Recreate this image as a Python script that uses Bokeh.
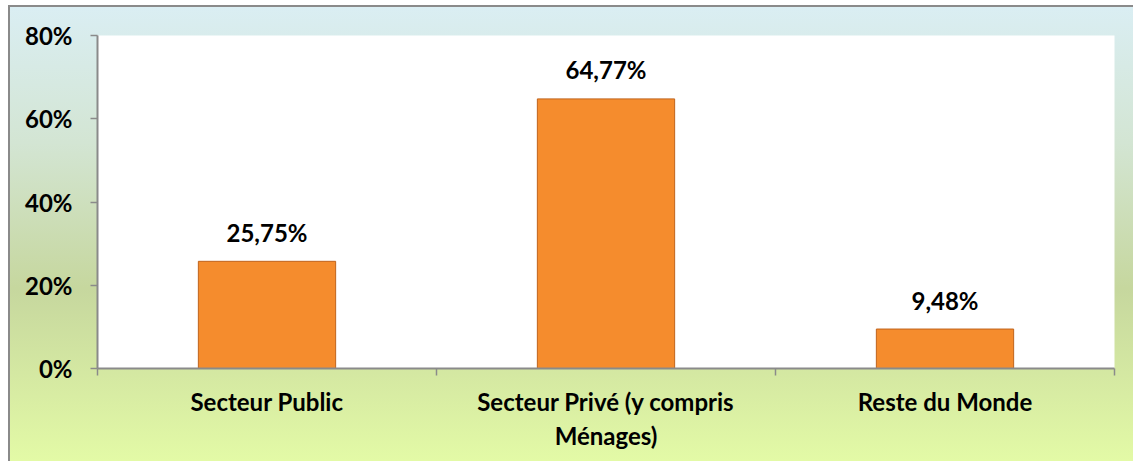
from bokeh.plotting import figure
from bokeh.models import FixedTicker, PrintfTickFormatter, ColumnDataSource, Range1d
from bokeh.embed import file_html
from bokeh.resources import INLINE
from bokeh.core.properties import value

categories = ["Secteur Public", "Secteur Privé (y compris\nMénages)", "Reste du Monde"]
values = [25.75, 64.77, 9.48]
labels = ["25,75%", "64,77%", "9,48%"]
y_ticks = [0, 20, 40, 60, 80]

x = [i + 0.5 for i in range(len(categories))]
bounds = list(range(len(categories) + 1))
src = ColumnDataSource(dict(x=x, top=values, label=labels))

FONT = "Lato"
FS = "24px"

p = figure(width=1125, height=456, output_backend="svg", toolbar_location=None,
           x_range=Range1d(0, len(categories)), y_range=Range1d(0, 80),
           min_border_left=87, min_border_right=21, min_border_top=28, min_border_bottom=95)

p.styles = {
    "background": "linear-gradient(to bottom, #DAEEF3 0%, #D3E5D3 30%, #C6D79E 62%, #E3FAA6 100%)",
    "border-top": "2px solid #8a8a8a",
    "border-left": "2px solid #8a8a8a",
    "margin-left": "8px",
    "margin-top": "5px",
}
p.border_fill_alpha = 0
p.background_fill_color = "white"
p.outline_line_color = None
p.grid.visible = False

p.vbar(x="x", top="top", width=0.405, source=src,
       fill_color="#F58C2D", line_color="#C0631B", line_width=1)

p.text(x="x", y="top", text="label", source=src, text_align="center",
       text_baseline="middle", y_offset=-29, text_font=value(FONT),
       text_font_style="bold", text_font_size=FS, text_color="black")

xa = p.xaxis[0]
xa.ticker = FixedTicker(ticks=x, minor_ticks=bounds)
xa.major_label_overrides = {x[i]: categories[i] for i in range(len(categories))}
xa.major_tick_line_color = None
xa.minor_tick_out = 7
xa.minor_tick_in = 0
xa.minor_tick_line_color = "#8a8a8a"
xa.minor_tick_line_width = 1.5
xa.axis_line_color = "#8a8a8a"
xa.axis_line_width = 2
xa.major_label_text_font = FONT
xa.major_label_text_font_style = "bold"
xa.major_label_text_font_size = FS
xa.major_label_text_color = "black"
xa.major_label_text_line_height = 1.2
xa.major_label_standoff = 11

ya = p.yaxis[0]
ya.ticker = FixedTicker(ticks=y_ticks)
ya.formatter = PrintfTickFormatter(format="%d%%")
ya.major_tick_out = 7
ya.major_tick_in = 0
ya.minor_tick_line_color = None
ya.major_tick_line_color = "#8a8a8a"
ya.major_tick_line_width = 1.5
ya.axis_line_color = "#8a8a8a"
ya.axis_line_width = 2
ya.major_label_text_font = FONT
ya.major_label_text_font_style = "bold"
ya.major_label_text_font_size = FS
ya.major_label_text_color = "black"
ya.major_label_standoff = 18

open("out.html", "w").write(file_html(p, INLINE))
